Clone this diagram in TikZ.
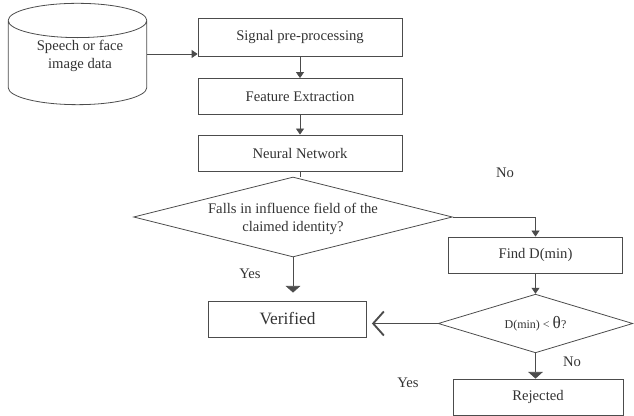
\documentclass[tikz,border=0pt]{standalone}
\usepackage{fontspec}
\setmainfont{Liberation Serif}
\usetikzlibrary{shapes.geometric,arrows.meta,positioning}

\begin{document}
\begin{tikzpicture}[x=0.75pt,y=-0.75pt,
    line/.style={draw=black!70, line width=0.6pt},
    box/.style={line, rectangle, minimum height=27pt, inner sep=0pt, text=black!80, font=\fontsize{11}{13}\selectfont},
    dec/.style={line, diamond, inner sep=0pt},
    arr/.style={line, -{Triangle[length=4.5pt,width=6pt]}},
    warr/.style={line, -{Triangle[length=5pt,width=11pt]}},
    lbl/.style={text=black!80, font=\fontsize{11}{13}\selectfont}]
    \useasboundingbox (0,0) rectangle (634,416);

    % input data
    \node[line, cylinder, shape border rotate=90, aspect=0.36, minimum width=104pt, minimum height=76pt,
          anchor=shape center, align=center, font=\fontsize{11}{13}\selectfont] (data) at (77.5,54)
          {\phantom{Speech or face}\\\phantom{image data}};
    \node[lbl, align=center] (datat) at (80,56) {Speech or face\\image data};

    % main chain
    \node[box, minimum width=153pt, minimum height=28.5pt] (pre) at (300,37) {Signal pre-processing};
    \node[box, minimum width=153pt] (feat) at (300,96.5) {Feature Extraction};
    \node[box, minimum width=153pt] (nn) at (300,153) {Neural Network};
    \node[dec, minimum width=239pt, minimum height=60pt] (d1) at (293,217) {};
    \node[lbl, align=center] (d1t) at (293,219) {Falls in influence field of the\\claimed identity?};
    \node[box, minimum width=131pt] (find) at (535.5,255) {Find D(min)};
    \node[box, minimum width=118pt, font=\fontsize{13}{15}\selectfont] (ver) at (287.5,319) {Verified};
    \node[dec, minimum width=146pt, minimum height=44pt] (d2) at (535.5,323.5) {};
    \node[text=black!80, font=\fontsize{9}{11}\selectfont] (d2t) at (d2) {D(min) < {\fontsize{13}{15}\selectfont θ}?};
    \node[box, minimum width=127.5pt] (rej) at (538,397) {Rejected};

    % labels
    \node[lbl] (no1) at (505,173) {No};
    \node[lbl] (yes1) at (250,274) {Yes};
    \node[lbl] (no2) at (572,362) {No};
    \node[lbl] (yes2) at (408,383) {Yes};

    % connectors
    \draw[arr] (data.shape center -| data.east) -- (data.shape center -| pre.west);
    \draw[arr] (pre) -- (feat);
    \draw[arr] (feat) -- (nn);
    \draw[line] (nn.south) -- (nn.south |- d1.north);
    \draw[arr] (d1.east) -| (find.north);
    \draw[warr, shorten >=6pt] (d1.south) -- (d1.south |- ver.north);
    \draw[arr] (find) -- (d2);
    \draw[line, line width=1.4pt, -{Straight Barb[length=8pt,width=18pt]}, shorten >=4pt] (d2.west) -- (d2.west -| ver.east);
    \draw[warr] (d2.south) -- (d2.south |- rej.north);
\end{tikzpicture}
\end{document}
